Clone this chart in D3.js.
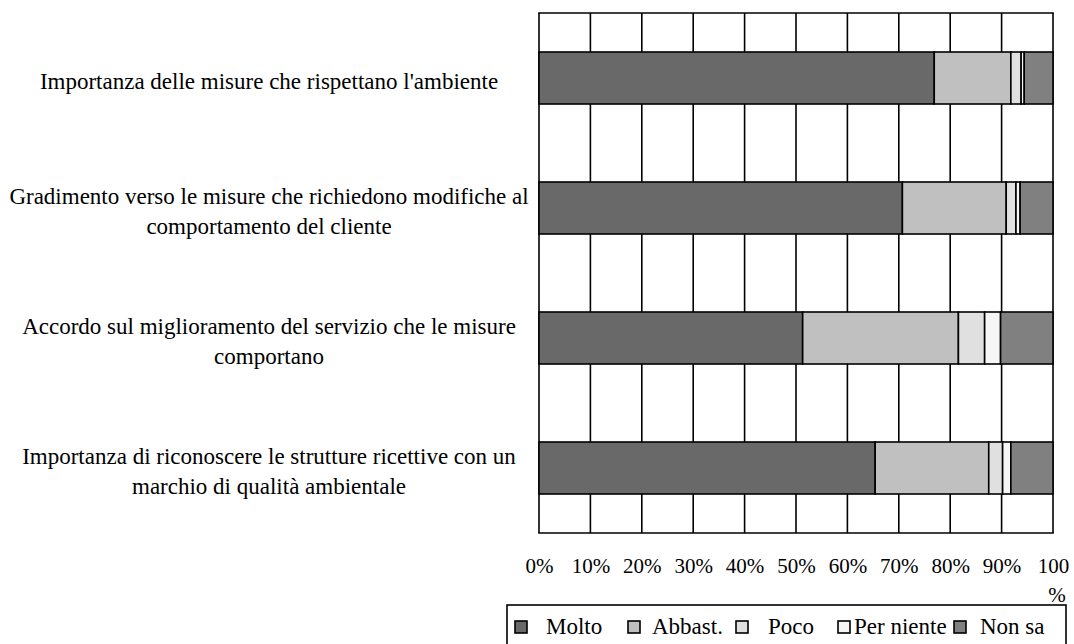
<!DOCTYPE html>
<html>
<head>
<meta charset="utf-8">
<script src="https://cdn.jsdelivr.net/npm/d3@7"></script>
<style>
  body { margin: 0; background: #fff; }
  text { font-family: "Liberation Serif", "Times New Roman", serif; fill: #000; }
</style>
</head>
<body>
<div id="chart"></div>
<script>
// data (percent of answers)
const categories = [
    "Importanza delle misure che rispettano l'ambiente",
    "Gradimento verso le misure che richiedono modifiche al comportamento del cliente",
    "Accordo sul miglioramento del servizio che le misure comportano",
    "Importanza di riconoscere le strutture ricettive con un marchio di qualità ambientale"
];
const seriesNames = ["Molto", "Abbast.", "Poco", "Per niente", "Non sa"];
const molto     = [76.9, 70.7, 51.3, 65.4];
const abbast    = [14.9, 20.2, 30.3, 22.1];
const poco      = [2.0, 1.9, 5.1, 2.7];
const perNiente = [0.6, 0.8, 3.1, 1.6];
const nonSa     = [5.6, 6.4, 10.2, 8.2];
const tickValues = [0, 10, 20, 30, 40, 50, 60, 70, 80, 90, 100];
const colors = ["#696969", "#c0c0c0", "#e0e0e0", "#f6f6f6", "#808080"];

const W = 1074, H = 644;
const svg = d3.select("#chart").append("svg")
    .attr("width", W)
    .attr("height", H);

const plotTop = 13, plotBottom = 533;
const x = d3.scaleLinear().domain([0, 100]).range([539, 1053]);
const y = d3.scaleBand().domain(categories).range([plotTop, plotBottom])
    .paddingInner(0.6).paddingOuter(0.3);

// rows for the stack
const rows = categories.map((c, i) => ({
    cat: c,
    "Molto": molto[i], "Abbast.": abbast[i], "Poco": poco[i],
    "Per niente": perNiente[i], "Non sa": nonSa[i]
}));
const stacked = d3.stack().keys(seriesNames)(rows);

// vertical grid + frame
svg.append("g")
    .selectAll("line")
    .data(tickValues)
    .join("line")
    .attr("x1", d => x(d)).attr("x2", d => x(d))
    .attr("y1", plotTop).attr("y2", plotBottom)
    .attr("stroke", "#000").attr("stroke-width", 1.6);

svg.append("g").selectAll("line")
    .data([plotTop, plotBottom])
    .join("line")
    .attr("x1", x(0) - 0.8).attr("x2", x(100) + 0.8)
    .attr("y1", d => d).attr("y2", d => d)
    .attr("stroke", "#000").attr("stroke-width", 1.6);

// bars
svg.append("g")
    .selectAll("g")
    .data(stacked)
    .join("g")
    .attr("fill", (d, i) => colors[i])
    .selectAll("rect")
    .data(d => d)
    .join("rect")
    .attr("x", d => x(d[0]))
    .attr("y", d => y(d.data.cat))
    .attr("width", d => x(d[1]) - x(d[0]))
    .attr("height", y.bandwidth())
    .attr("stroke", "#000")
    .attr("stroke-width", 1.6);

// category labels, wrapped
const labelSize = 23;
const labelG = svg.append("g");
function wrapLabel(str, maxW) {
    const tmp = labelG.append("text").style("font-size", labelSize + "px");
    const words = str.split(" ");
    let lines = [], cur = "";
    words.forEach(w => {
        const test = cur ? cur + " " + w : w;
        tmp.text(test);
        if (tmp.node().getComputedTextLength() > maxW && cur) {
            lines.push(cur);
            cur = w;
        } else {
            cur = test;
        }
    });
    lines.push(cur);
    tmp.remove();
    return lines;
}
categories.forEach(c => {
    const lines = wrapLabel(c, 540);
    const cy = y(c) + y.bandwidth() / 2 + 3;
    const lh = 30;
    const t = labelG.append("text")
        .attr("text-anchor", "middle")
        .style("font-size", labelSize + "px");
    lines.forEach((ln, j) => {
        t.append("tspan")
            .attr("x", 269)
            .attr("y", cy + 8 + (j - (lines.length - 1) / 2) * lh)
            .text(ln);
    });
});

// x axis labels
const tickSize = 21;
const axis = d3.axisBottom(x)
    .tickValues(tickValues)
    .tickSize(0)
    .tickPadding(0)
    .tickFormat(d => d === 100 ? "100" : d + "%");
const axG = svg.append("g").call(axis);
axG.select(".domain").remove();
axG.selectAll("text")
    .attr("y", 573)
    .attr("dy", null)
    .style("font-family", '"Liberation Serif", "Times New Roman", serif')
    .style("font-size", tickSize + "px")
    .attr("fill", "#000");
// the wrapped "%" of 100%
svg.append("text")
    .attr("x", x(100) + 4)
    .attr("y", 602)
    .attr("text-anchor", "middle")
    .style("font-size", tickSize + "px")
    .text("%");

// legend
const legend = svg.append("g");
legend.append("rect")
    .attr("x", 507).attr("y", 605)
    .attr("width", 559).attr("height", 60)
    .attr("fill", "#fff").attr("stroke", "#000").attr("stroke-width", 1.6);
const legendX = [515, 628, 736, 838, 954];
const textX = [546, 652, 768, 854, 980];
seriesNames.forEach((s, i) => {
    legend.append("rect")
        .attr("x", legendX[i]).attr("y", 621)
        .attr("width", 12).attr("height", 12)
        .attr("fill", colors[i]).attr("stroke", "#000").attr("stroke-width", 1.6);
    legend.append("text")
        .attr("x", textX[i]).attr("y", 634)
        .style("font-size", labelSize + "px")
        .text(s);
});
</script>
</body>
</html>
